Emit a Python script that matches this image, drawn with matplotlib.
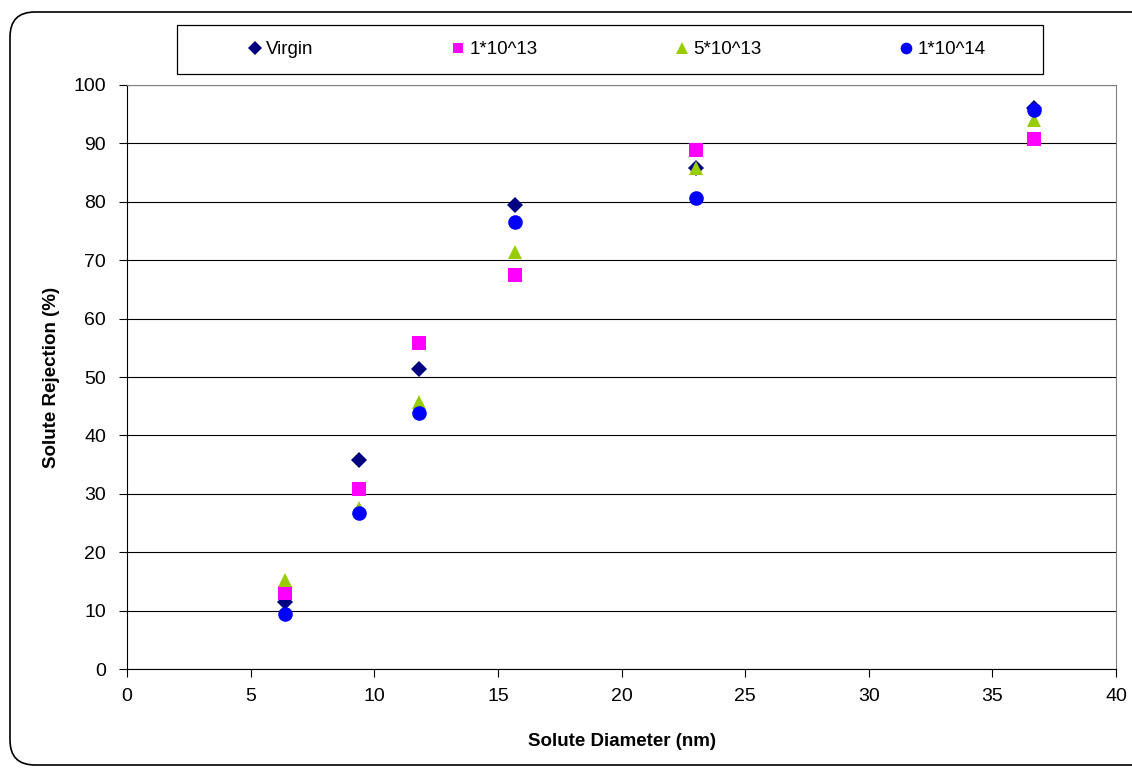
import matplotlib
matplotlib.use("Agg")
import matplotlib.pyplot as plt
from matplotlib.patches import FancyBboxPatch, Rectangle

plt.rcParams["font.family"] = ["Liberation Sans", "DejaVu Sans"]

# Solute rejection vs. solute diameter for each irradiation dose
diameter = [6.4, 9.4, 11.8, 15.7, 23.0, 36.7]
virgin = [11.5, 35.8, 51.3, 79.5, 85.8, 96.0]
dose_1e13 = [13.0, 30.8, 55.8, 67.5, 88.8, 90.8]
dose_5e13 = [15.2, 27.6, 45.7, 71.4, 85.8, 94.0]
dose_1e14 = [9.4, 26.7, 43.9, 76.5, 80.7, 95.8]

series = [
    ("Virgin", virgin, "D", "#000080", 8.5),
    ("1*10^13", dose_1e13, "s", "#FF00FF", 9.5),
    ("5*10^13", dose_5e13, "^", "#99CC00", 10.5),
    ("1*10^14", dose_1e14, "o", "#0000FF", 10.5),
]

fig = plt.figure(figsize=(11.32, 7.69), dpi=100)
ax = fig.add_axes([0.1122, 0.130, 0.8737, 0.7595])

for label, vals, marker, color, ms in series:
    ax.plot(diameter, vals, linestyle="none", marker=marker, color=color,
            markersize=ms, markeredgewidth=0, label=label, clip_on=False)

ax.set_xlim(0, 40)
ax.set_ylim(0, 100)
ax.set_xticks(range(0, 41, 5))
ax.set_yticks(range(0, 101, 10))
ax.yaxis.grid(True, color="#000000", linewidth=0.8)
ax.set_axisbelow(True)
ax.tick_params(axis="both", direction="out", length=6, width=0.8,
               labelsize=14, colors="#000000")
ax.tick_params(axis="x", pad=8)
ax.tick_params(axis="y", pad=9)
ax.spines["left"].set_color("#000000")
ax.spines["bottom"].set_color("#000000")
ax.spines["top"].set_color("#808080")
ax.spines["right"].set_color("#808080")

ax.set_xlabel("Solute Diameter (nm)", fontsize=13.5, fontweight="bold", labelpad=20)
ax.set_ylabel("Solute Rejection (%)", fontsize=13.5, fontweight="bold", labelpad=10)

# Legend sits in its own box above the plot area
W, H = 1132.0, 769.0
fig.patches.append(Rectangle((177 / W, 1 - 74 / H), 866 / W, 49 / H,
                             transform=fig.transFigure, fill=False,
                             edgecolor="#000000", linewidth=0.9))
handles, labels = ax.get_legend_handles_labels()
fig.legend(handles, labels, loc="center left", ncol=4, mode="expand",
           bbox_to_anchor=(242 / W, 1 - 74 / H, 751 / W, 49 / H),
           frameon=False, fontsize=13.5, markerscale=0.8,
           handlelength=0.6, handletextpad=0.3, borderaxespad=0)

# Rounded outer chart border
fig.patches.append(FancyBboxPatch((10 / W, 4 / H), 1160 / W, 753 / H,
                                  boxstyle="round,pad=0,rounding_size=0.022",
                                  transform=fig.transFigure, fill=False,
                                  edgecolor="#000000", linewidth=1.2,
                                  mutation_aspect=W / H))

fig.savefig("out.png", dpi=100)
